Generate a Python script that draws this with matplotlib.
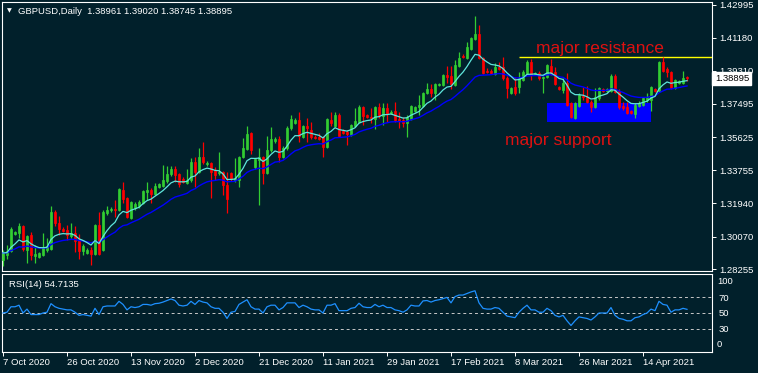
import matplotlib
matplotlib.use("Agg")
import matplotlib.pyplot as plt
import matplotlib.transforms as mtransforms
import numpy as np
import pandas as pd

# ---------------- data ----------------
opens = [1.2876, 1.2904, 1.2926, 1.3021, 1.3026, 1.3066, 1.2932, 1.3015, 1.2898, 1.2893,
         1.2904, 1.2932, 1.2937, 1.3144, 1.3082, 1.3049, 1.3043, 1.3010, 1.3026, 1.2987,
         1.2926, 1.2915, 1.2932, 1.2910, 1.3071, 1.2932, 1.3138, 1.3155, 1.3161, 1.3155,
         1.3267, 1.3222, 1.3110, 1.3166, 1.3178, 1.3194, 1.3256, 1.3267, 1.3245, 1.3283,
         1.3289, 1.3317, 1.3356, 1.3384, 1.3356, 1.3328, 1.3306, 1.3322, 1.3423, 1.3367,
         1.3451, 1.3412, 1.3417, 1.3378, 1.3361, 1.3367, 1.3294, 1.3361, 1.3322, 1.3322,
         1.3451, 1.3496, 1.3585, 1.3395, 1.3434, 1.3451, 1.3361, 1.3490, 1.3540, 1.3552,
         1.3451, 1.3501, 1.3613, 1.3640, 1.3657, 1.3563, 1.3624, 1.3602, 1.3563, 1.3563,
         1.3563, 1.3507, 1.3657, 1.3624, 1.3685, 1.3596, 1.3591, 1.3574, 1.3624, 1.3646,
         1.3730, 1.3685, 1.3674, 1.3663, 1.3730, 1.3680, 1.3724, 1.3696, 1.3707, 1.3663,
         1.3657, 1.3640, 1.3663, 1.3707, 1.3730, 1.3735, 1.3808, 1.3831, 1.3808, 1.3853,
         1.3853, 1.3909, 1.3903, 1.3853, 1.3959, 1.4015, 1.4003, 1.4054, 1.4110, 1.4138,
         1.4003, 1.3931, 1.3931, 1.3915, 1.3953, 1.3953, 1.3892, 1.3808, 1.3842, 1.3842,
         1.3881, 1.3920, 1.3981, 1.3915, 1.3920, 1.3892, 1.3898, 1.3959, 1.3926, 1.3842,
         1.3825, 1.3864, 1.3752, 1.3668, 1.3735, 1.3792, 1.3786, 1.3758, 1.3730, 1.3780,
         1.3831, 1.3820, 1.3820, 1.3903, 1.3820, 1.3735, 1.3730, 1.3707, 1.3691, 1.3735,
         1.3741, 1.3769, 1.3769, 1.3831, 1.3820, 1.3981, 1.3942, 1.3926, 1.3836, 1.3864,
         1.3864, 1.38961]
highs = [1.2932, 1.2959, 1.3060, 1.3037, 1.3082, 1.3071, 1.3015, 1.3032, 1.2959, 1.2921,
         1.3026, 1.2998, 1.3178, 1.3155, 1.3122, 1.3060, 1.3071, 1.3082, 1.3066, 1.3021,
         1.2965, 1.2942, 1.2948, 1.3077, 1.3144, 1.3155, 1.3178, 1.3172, 1.3211, 1.3278,
         1.3311, 1.3227, 1.3205, 1.3200, 1.3211, 1.3267, 1.3311, 1.3278, 1.3306, 1.3306,
         1.3406, 1.3400, 1.3400, 1.3400, 1.3361, 1.3339, 1.3384, 1.3445, 1.3451, 1.3501,
         1.3535, 1.3428, 1.3423, 1.3395, 1.3479, 1.3373, 1.3367, 1.3367, 1.3445, 1.3456,
         1.3557, 1.3624, 1.3591, 1.3445, 1.3501, 1.3456, 1.3569, 1.3619, 1.3563, 1.3569,
         1.3512, 1.3624, 1.3685, 1.3668, 1.3702, 1.3630, 1.3668, 1.3646, 1.3574, 1.3585,
         1.3569, 1.3668, 1.3702, 1.3702, 1.3696, 1.3607, 1.3602, 1.3635, 1.3724, 1.3741,
         1.3735, 1.3691, 1.3724, 1.3735, 1.3752, 1.3752, 1.3752, 1.3713, 1.3758, 1.3702,
         1.3674, 1.3685, 1.3741, 1.3735, 1.3797, 1.3814, 1.3864, 1.3859, 1.3864, 1.3864,
         1.3915, 1.3959, 1.3959, 1.3992, 1.4037, 1.4026, 1.4093, 1.4121, 1.4238, 1.4188,
         1.4009, 1.3948, 1.3942, 1.3976, 1.3981, 1.4009, 1.3903, 1.3842, 1.3898, 1.3926,
         1.3937, 1.3992, 1.3998, 1.3926, 1.3931, 1.3903, 1.3970, 1.3998, 1.3953, 1.3847,
         1.3892, 1.3920, 1.3758, 1.3758, 1.3808, 1.3842, 1.3847, 1.3769, 1.3836, 1.3842,
         1.3836, 1.3836, 1.3915, 1.3915, 1.3831, 1.3758, 1.3758, 1.3713, 1.3752, 1.3763,
         1.3786, 1.3808, 1.3847, 1.3836, 1.3987, 1.4009, 1.3953, 1.3931, 1.3886, 1.3881,
         1.3931, 1.39020]
lows = [1.2843, 1.2882, 1.2921, 1.3015, 1.2998, 1.2926, 1.2859, 1.2876, 1.2859, 1.2887,
        1.2898, 1.2921, 1.2932, 1.3066, 1.3015, 1.3032, 1.2987, 1.2998, 1.2921, 1.2882,
        1.2904, 1.2910, 1.2848, 1.2904, 1.2904, 1.2926, 1.3127, 1.3144, 1.3116, 1.3150,
        1.3194, 1.3110, 1.3105, 1.3155, 1.3166, 1.3189, 1.3211, 1.3194, 1.3239, 1.3278,
        1.3283, 1.3306, 1.3345, 1.3311, 1.3283, 1.3306, 1.3300, 1.3311, 1.3283, 1.3361,
        1.3412, 1.3400, 1.3222, 1.3322, 1.3350, 1.3239, 1.3138, 1.3317, 1.3311, 1.3283,
        1.3445, 1.3490, 1.3468, 1.3384, 1.3183, 1.3300, 1.3356, 1.3479, 1.3529, 1.3423,
        1.3445, 1.3490, 1.3602, 1.3635, 1.3535, 1.3557, 1.3535, 1.3552, 1.3552, 1.3546,
        1.3451, 1.3501, 1.3624, 1.3619, 1.3563, 1.3580, 1.3518, 1.3569, 1.3619, 1.3640,
        1.3630, 1.3668, 1.3640, 1.3607, 1.3668, 1.3630, 1.3646, 1.3691, 1.3646, 1.3613,
        1.3619, 1.3563, 1.3657, 1.3702, 1.3685, 1.3730, 1.3803, 1.3786, 1.3769, 1.3847,
        1.3847, 1.3864, 1.3831, 1.3847, 1.3953, 1.4003, 1.3998, 1.4048, 1.4104, 1.3998,
        1.3915, 1.3920, 1.3915, 1.3909, 1.3937, 1.3881, 1.3780, 1.3803, 1.3797, 1.3808,
        1.3875, 1.3915, 1.3881, 1.3909, 1.3881, 1.3808, 1.3892, 1.3909, 1.3853, 1.3825,
        1.3808, 1.3735, 1.3668, 1.3663, 1.3730, 1.3769, 1.3752, 1.3702, 1.3724, 1.3769,
        1.3814, 1.3814, 1.3814, 1.3808, 1.3719, 1.3713, 1.3691, 1.3691, 1.3668, 1.3730,
        1.3735, 1.3758, 1.3707, 1.3814, 1.3814, 1.3926, 1.3898, 1.3831, 1.3831, 1.3859,
        1.3859, 1.38745]
closes = [1.2915, 1.2926, 1.3049, 1.3032, 1.3066, 1.2937, 1.3010, 1.2904, 1.2910, 1.2915,
          1.2942, 1.2954, 1.3144, 1.3082, 1.3049, 1.3037, 1.3015, 1.3026, 1.2982, 1.2926,
          1.2954, 1.2932, 1.2910, 1.3071, 1.2910, 1.3144, 1.3155, 1.3161, 1.3155, 1.3272,
          1.3216, 1.3116, 1.3200, 1.3189, 1.3200, 1.3261, 1.3267, 1.3245, 1.3289, 1.3300,
          1.3322, 1.3356, 1.3384, 1.3350, 1.3300, 1.3311, 1.3322, 1.3423, 1.3367, 1.3451,
          1.3423, 1.3417, 1.3367, 1.3350, 1.3367, 1.3294, 1.3216, 1.3328, 1.3334, 1.3451,
          1.3501, 1.3580, 1.3490, 1.3440, 1.3451, 1.3361, 1.3490, 1.3552, 1.3552, 1.3451,
          1.3501, 1.3613, 1.3663, 1.3657, 1.3569, 1.3624, 1.3613, 1.3563, 1.3557, 1.3552,
          1.3507, 1.3663, 1.3640, 1.3685, 1.3569, 1.3585, 1.3580, 1.3630, 1.3652, 1.3730,
          1.3680, 1.3674, 1.3668, 1.3730, 1.3685, 1.3724, 1.3691, 1.3702, 1.3657, 1.3652,
          1.3640, 1.3674, 1.3735, 1.3730, 1.3741, 1.3808, 1.3831, 1.3808, 1.3859, 1.3859,
          1.3909, 1.3898, 1.3859, 1.3964, 1.4003, 1.4009, 1.4065, 1.4115, 1.4138, 1.4003,
          1.3920, 1.3926, 1.3920, 1.3953, 1.3942, 1.3892, 1.3836, 1.3836, 1.3808, 1.3892,
          1.3926, 1.3981, 1.3915, 1.3920, 1.3892, 1.3898, 1.3964, 1.3920, 1.3859, 1.3831,
          1.3864, 1.3741, 1.3674, 1.3752, 1.3797, 1.3786, 1.3758, 1.3730, 1.3786, 1.3836,
          1.3820, 1.3831, 1.3903, 1.3814, 1.3730, 1.3724, 1.3696, 1.3696, 1.3741, 1.3752,
          1.3780, 1.3786, 1.3842, 1.3820, 1.3981, 1.3931, 1.3926, 1.3836, 1.3881, 1.3875,
          1.3892, 1.38895]
rsi_values = [50, 51, 58, 58, 60, 50, 55, 48, 48, 48, 50, 51, 62, 58, 56, 55, 54, 54, 51, 47,
              48, 47, 46, 56, 48, 58, 59, 59, 59, 65, 61, 54, 58, 57, 58, 61, 61, 60, 62, 62.5,
              64, 66, 68, 66, 60, 59, 60, 65, 61, 66, 64, 63, 58, 56, 56, 51, 43, 51, 52, 61,
              64, 67, 58, 55, 55, 50, 58, 60, 60, 54, 57, 63, 63, 63, 57, 60, 58, 55, 54, 54,
              50, 60, 60, 62, 53, 53, 53, 56, 57, 62.5, 58, 57, 57, 61, 58, 60, 57, 57, 54, 53,
              51, 54, 60, 59, 59, 65.5, 66, 64, 66, 67, 68.5, 70, 63, 71, 73, 73, 75, 77, 78.5, 63,
              56, 55, 55, 57, 56, 51, 46, 45, 44, 51, 56, 60, 54, 54, 51, 51, 56, 53, 47, 45,
              47, 40, 34, 40, 45, 44, 43, 41, 45, 50, 50, 50, 57, 47, 43, 42, 40, 40, 44, 45,
              48, 50, 55, 53, 65, 61, 60, 51, 54, 54, 56, 54.7135]

date_labels = ["7 Oct 2020", "26 Oct 2020", "13 Nov 2020", "2 Dec 2020", "21 Dec 2020",
               "11 Jan 2021", "29 Jan 2021", "17 Feb 2021", "8 Mar 2021", "26 Mar 2021",
               "14 Apr 2021"]
date_label_bars = [0, 16, 32, 48, 64, 80, 96, 112, 128, 144, 160]
price_ticks = [1.28255, 1.30070, 1.31940, 1.33755, 1.35625, 1.37495, 1.39310, 1.41180, 1.42995]
rsi_levels = [70, 50, 30]
resistance_price = 1.4007
resistance_start_bar = 129
support_low, support_high = 1.3648, 1.3752
support_start_bar, support_end_bar = 136, 162
header = "GBPUSD,Daily  1.38961 1.39020 1.38745 1.38895"
rsi_title = "RSI(14) 54.7135"

# ---------------- style ----------------
W, H = 758, 373
BG = "#01202b"
UP = "#32cd32"
DN = "#ff0000"
FG = "white"
FONT = "Liberation Sans"
FS = 6.8

fig = plt.figure(figsize=(W / 100, H / 100), dpi=100, facecolor=BG)


def px_axes(x0, y0, x1, y1):
    return fig.add_axes([x0 / W, 1 - y1 / H, (x1 - x0) / W, (y1 - y0) / H])


ax = px_axes(2, 2, 712, 271)
ax2 = px_axes(2, 274, 712, 352)

o = np.array(opens); h = np.array(highs); l = np.array(lows); c = np.array(closes)
x = np.arange(len(c))
up = c >= o
cols = np.where(up, UP, DN)

for a in (ax, ax2):
    a.set_facecolor(BG)
    for s in a.spines.values():
        s.set_color(FG)
        s.set_linewidth(0.8)
    a.set_xlim(-0.25, 177.25)

ax.set_ylim(1.28144, 1.43162)

# support zone and resistance line
ax.fill_between([support_start_bar, support_end_bar], support_low, support_high,
                color="#0000ff", linewidth=0, zorder=1)
ax.hlines(resistance_price, resistance_start_bar, 177.25, color="#ffff00", linewidth=1.0, zorder=2)

# candles
ax.vlines(x, l, h, colors=cols, linewidth=0.9, zorder=3)
ax.bar(x, np.abs(c - o), bottom=np.minimum(o, c), width=0.68, color=cols,
       edgecolor=cols, linewidth=0.5, zorder=4)

# moving averages computed from closes
cs = pd.Series(c)
ma_fast = cs.ewm(span=8, adjust=False).mean()
ma_slow = cs.ewm(span=21, adjust=False).mean()
ax.plot(x, ma_slow, color="#0000ff", linewidth=1.0, zorder=5)
ax.plot(x, ma_fast, color="#5fe6dc", linewidth=0.9, zorder=6)

# annotations
ax.text(133.2, resistance_price + 0.0006, "major resistance", color="#dd1111",
        fontsize=12.5, family=FONT, va="bottom", ha="left", zorder=7)
ax.text(125.5, 1.3518, "major support", color="#dd1111",
        fontsize=12.5, family=FONT, va="baseline", ha="left", zorder=7)

# price axis
ax.yaxis.tick_right()
ax.set_yticks(price_ticks)
ax.set_yticklabels([f"{p:.5f}" for p in price_ticks], family=FONT)
ax.tick_params(axis="y", colors=FG, labelcolor=FG, length=3, width=0.7, labelsize=FS, pad=2)
ax.set_xticks([])

# last price label
bt = mtransforms.blended_transform_factory(ax.transAxes, ax.transData)
ax.text(1.004, c[-1], f"{c[-1]:.5f}", transform=bt, color="black", fontsize=FS, family=FONT,
        va="center", ha="left", zorder=10,
        bbox=dict(facecolor="white", edgecolor="white", boxstyle="square,pad=0.25"), clip_on=False)

# header
fig.text(7 / W, 1 - 11 / H, "\u25bc", color=FG, fontsize=4.5, family="DejaVu Sans",
         va="center", ha="left")
fig.text(18 / W, 1 - 11 / H, header, color=FG, fontsize=FS, family=FONT, va="center", ha="left")

# RSI panel
ax2.set_ylim(0, 100)
for lv in rsi_levels:
    ax2.axhline(lv, color="#c8c8c8", linewidth=0.7, linestyle=(0, (3, 3)), zorder=1)
ax2.plot(x, rsi_values, color="#1e90ff", linewidth=0.9, zorder=3)
ax2.yaxis.tick_right()
ax2.set_yticks(rsi_levels)
ax2.set_yticklabels([str(v) for v in rsi_levels], family=FONT)
ax2.tick_params(axis="y", colors=FG, labelcolor=FG, length=0, labelsize=FS, pad=5)
bt2 = mtransforms.blended_transform_factory(ax2.transAxes, ax2.transData)
ax2.text(1.007, 90.5, "100", transform=bt2, color=FG, fontsize=FS, family=FONT, va="center", ha="left")
ax2.text(1.007, 10, "0", transform=bt2, color=FG, fontsize=FS, family=FONT, va="center", ha="left")
ax2.text(7 / 710, 0.86, rsi_title, transform=ax2.transAxes, color=FG, fontsize=FS, family=FONT,
         va="center", ha="left")

ax2.set_xticks(date_label_bars)
ax2.set_xticklabels(date_labels, family=FONT, ha="left")
ax2.tick_params(axis="x", colors=FG, labelcolor=FG, length=3, width=0.7, labelsize=FS, pad=1.5)

fig.savefig("out.png", dpi=100, facecolor=BG)
